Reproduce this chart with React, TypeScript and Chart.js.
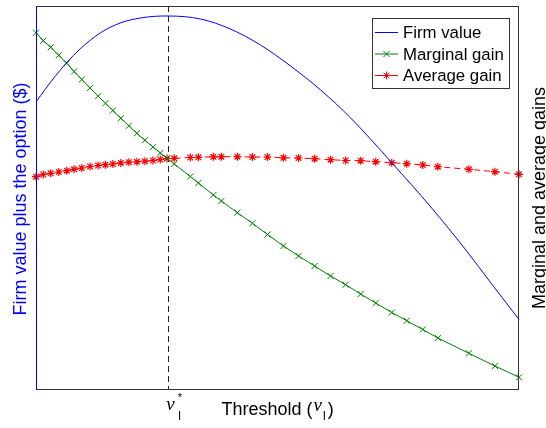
import { useEffect, useRef } from 'react';
import { Chart, registerables } from 'chart.js';

Chart.register(...registerables);

const SANS = '"Liberation Sans", Arial, Helvetica, sans-serif';
const SERIF = '"Liberation Serif", "Times New Roman", serif';

// Threshold grid (x) shared by marginal and average gain
const thresholds = [0, 1.5, 3.05, 4.71, 6.37, 7.88, 9.48, 11.2, 12.86, 14.38, 15.91, 17.57, 19.23, 20.89, 22.55, 24.21, 25.73, 27.12, 28.63, 31.95, 33.61, 36.72, 38.38, 41.7, 44.81, 47.93, 51.24, 54.36, 57.68, 60.99, 64.11, 67.22, 70.33, 73.65, 76.76, 80.08, 83.2, 89.63, 95.02, 100];
const marginalGain = [93.03, 90.94, 89.22, 87.13, 85.04, 82.9, 80.81, 78.59, 76.45, 74.6, 72.72, 70.68, 68.72, 66.76, 64.94, 63.19, 61.62, 60.23, 58.75, 55.48, 53.79, 50.65, 49.09, 46.03, 43.26, 40.34, 37.34, 34.73, 32.11, 29.5, 27.23, 24.8, 22.45, 19.97, 17.83, 15.54, 13.32, 9.32, 6.01, 3.05];
const averageGain = [55.43, 56.01, 56.32, 56.66, 57.0, 57.36, 57.7, 58.09, 58.36, 58.56, 58.75, 59.03, 59.22, 59.32, 59.48, 59.66, 59.92, 60.18, 60.23, 60.44, 60.5, 60.63, 60.65, 60.65, 60.57, 60.57, 60.37, 60.31, 60.13, 59.87, 59.66, 59.61, 59.35, 59.09, 58.83, 58.49, 58.04, 57.36, 56.74, 56.06];

// Firm value curve
const firmX = [0, 1.87, 3.94, 6.37, 9.13, 13.28, 17.43, 21.58, 24.69, 27.39, 34.02, 40.25, 46.47, 52.7, 58.92, 65.15, 73.65, 81.74, 89.0, 94.19, 100];
const firmValue = [74.93, 78.2, 81.59, 85.25, 88.77, 92.95, 95.56, 96.87, 97.31, 97.39, 96.61, 94.0, 89.82, 84.33, 78.07, 70.76, 59.09, 47.52, 36.29, 27.68, 18.15];

const xStar = 27.39;
const seriesLabels = ['Firm value', 'Marginal gain', 'Average gain'];
const xTitle = 'Threshold (';
const yLeftTitle = 'Firm value plus the option ($)';
const yRightTitle = 'Marginal and average gains';

const BLUE = '#0000ff';
const GREEN = '#008000';
const RED = '#ff0000';

function drawXMark(ctx: CanvasRenderingContext2D, x: number, y: number, r: number) {
  ctx.beginPath();
  ctx.moveTo(x - r, y - r); ctx.lineTo(x + r, y + r);
  ctx.moveTo(x - r, y + r); ctx.lineTo(x + r, y - r);
  ctx.stroke();
}
function drawStarMark(ctx: CanvasRenderingContext2D, x: number, y: number, r: number) {
  const d = r * 0.707;
  ctx.beginPath();
  ctx.moveTo(x - r, y); ctx.lineTo(x + r, y);
  ctx.moveTo(x, y - r); ctx.lineTo(x, y + r);
  ctx.moveTo(x - d, y - d); ctx.lineTo(x + d, y + d);
  ctx.moveTo(x - d, y + d); ctx.lineTo(x + d, y - d);
  ctx.stroke();
}

const decor = {
  id: 'decor',
  beforeDatasetsDraw(chart: any) {
    const { ctx, chartArea: a, scales } = chart;
    const px = Math.round(scales.x.getPixelForValue(xStar)) + 0.5;
    ctx.save();
    ctx.strokeStyle = '#222';
    ctx.lineWidth = 1;
    ctx.setLineDash([6, 4]);
    ctx.beginPath();
    ctx.moveTo(px, a.top);
    ctx.lineTo(px, a.bottom);
    ctx.stroke();
    ctx.restore();
  },
  afterDraw(chart: any) {
    const { ctx, chartArea: a, scales } = chart;
    ctx.save();
    // frame
    ctx.lineWidth = 1;
    ctx.strokeStyle = '#333';
    ctx.beginPath();
    ctx.moveTo(a.left, a.top + 0.5); ctx.lineTo(a.right, a.top + 0.5);
    ctx.moveTo(a.right - 0.5, a.top); ctx.lineTo(a.right - 0.5, a.bottom + 1);
    ctx.moveTo(a.left, a.bottom + 0.5); ctx.lineTo(a.right, a.bottom + 0.5);
    ctx.stroke();
    ctx.strokeStyle = BLUE;
    ctx.beginPath();
    ctx.moveTo(a.left + 0.5, a.top); ctx.lineTo(a.left + 0.5, a.bottom + 1);
    ctx.stroke();

    // legend
    const lx = 372.5, ly = 18.5, lw = 137, lh = 70;
    ctx.fillStyle = '#fff';
    ctx.fillRect(lx, ly, lw, lh);
    ctx.strokeStyle = '#333';
    ctx.strokeRect(lx, ly, lw, lh);
    const rows = [32.5, 54, 75.5];
    const colors = [BLUE, GREEN, RED];
    ctx.font = `16.8px ${SANS}`;
    ctx.textBaseline = 'middle';
    ctx.textAlign = 'left';
    rows.forEach((ry, i) => {
      ctx.strokeStyle = colors[i];
      ctx.lineWidth = 1;
      ctx.beginPath();
      ctx.moveTo(375, ry); ctx.lineTo(398, ry);
      ctx.stroke();
      if (i === 1) drawXMark(ctx, 386.5, ry, 3);
      if (i === 2) drawStarMark(ctx, 386.5, ry, 4);
      ctx.fillStyle = '#000';
      ctx.fillText(seriesLabels[i], 403, ry + 1);
    });

    // x tick label nu_l^*
    const tx = scales.x.getPixelForValue(xStar);
    ctx.fillStyle = '#000';
    ctx.textBaseline = 'alphabetic';
    ctx.font = `italic 19px ${SERIF}`;
    ctx.fillText('ν', tx - 2, 409.5);
    ctx.font = `11px ${SANS}`;
    ctx.fillText('*', tx + 9.5, 401);
    ctx.font = `12px ${SANS}`;
    ctx.fillText('l', tx + 10, 420);

    // x title
    ctx.font = `18px ${SANS}`;
    let cx = 221.5;
    ctx.fillText(xTitle, cx, 415);
    cx += ctx.measureText(xTitle).width;
    ctx.font = `italic 19px ${SERIF}`;
    ctx.fillText('ν', cx + 1, 411);
    cx += ctx.measureText('ν').width + 1;
    ctx.font = `12px ${SANS}`;
    ctx.fillText('l', cx + 1, 420);
    cx += ctx.measureText('l').width + 2;
    ctx.font = `18px ${SANS}`;
    ctx.fillText(')', cx + 1, 415);

    // left y title
    ctx.textAlign = 'center';
    ctx.save();
    ctx.translate(26, 199);
    ctx.rotate(-Math.PI / 2);
    ctx.fillStyle = BLUE;
    ctx.font = `18px ${SANS}`;
    ctx.fillText(yLeftTitle, 0, 0);
    ctx.restore();

    // right y title
    ctx.save();
    ctx.translate(545, 198);
    ctx.rotate(-Math.PI / 2);
    ctx.fillStyle = '#000';
    ctx.font = `18px ${SANS}`;
    ctx.fillText(yRightTitle, 0, 0);
    ctx.restore();

    ctx.restore();
  },
};

export default function App() {
  const ref = useRef<HTMLCanvasElement | null>(null);
  useEffect(() => {
    if (!ref.current) return;
    const chart = new Chart(ref.current, {
      type: 'line',
      data: {
        datasets: [
          {
            label: seriesLabels[0],
            data: firmX.map((x, i) => ({ x, y: firmValue[i] })),
            borderColor: BLUE,
            borderWidth: 1,
            pointRadius: 0,
            cubicInterpolationMode: 'monotone',
            yAxisID: 'y',
            clip: false,
          },
          {
            label: seriesLabels[1],
            data: thresholds.map((x, i) => ({ x, y: marginalGain[i] })),
            borderColor: GREEN,
            borderWidth: 1,
            pointStyle: 'crossRot',
            pointRadius: 4.3,
            pointBorderColor: GREEN,
            pointBorderWidth: 1,
            tension: 0,
            yAxisID: 'y2',
            clip: false,
          },
          {
            label: seriesLabels[2],
            data: thresholds.map((x, i) => ({ x, y: averageGain[i] })),
            borderColor: RED,
            borderWidth: 1,
            borderDash: [6, 4],
            pointStyle: 'star',
            pointRadius: 4,
            pointBorderColor: RED,
            pointBorderWidth: 1.2,
            tension: 0,
            yAxisID: 'y2',
            clip: false,
          },
        ],
      },
      options: {
        animation: false,
        responsive: false,
        events: [],
        layout: { padding: { left: 36, right: 27, top: 6, bottom: 39 } },
        plugins: { legend: { display: false }, tooltip: { enabled: false } },
        scales: {
          x: { type: 'linear', min: 0, max: 100, display: false },
          y: { type: 'linear', min: 0, max: 100, display: false, position: 'left' },
          y2: { type: 'linear', min: 0, max: 100, display: false, position: 'right' },
        },
      },
      plugins: [decor],
    } as any);
    return () => chart.destroy();
  }, []);
  return (
    <div style={{ position: 'absolute', left: 0, top: 0, width: 546, height: 428, background: '#fff' }}>
      <canvas ref={ref} width={546} height={428} style={{ display: 'block' }} />
    </div>
  );
}
